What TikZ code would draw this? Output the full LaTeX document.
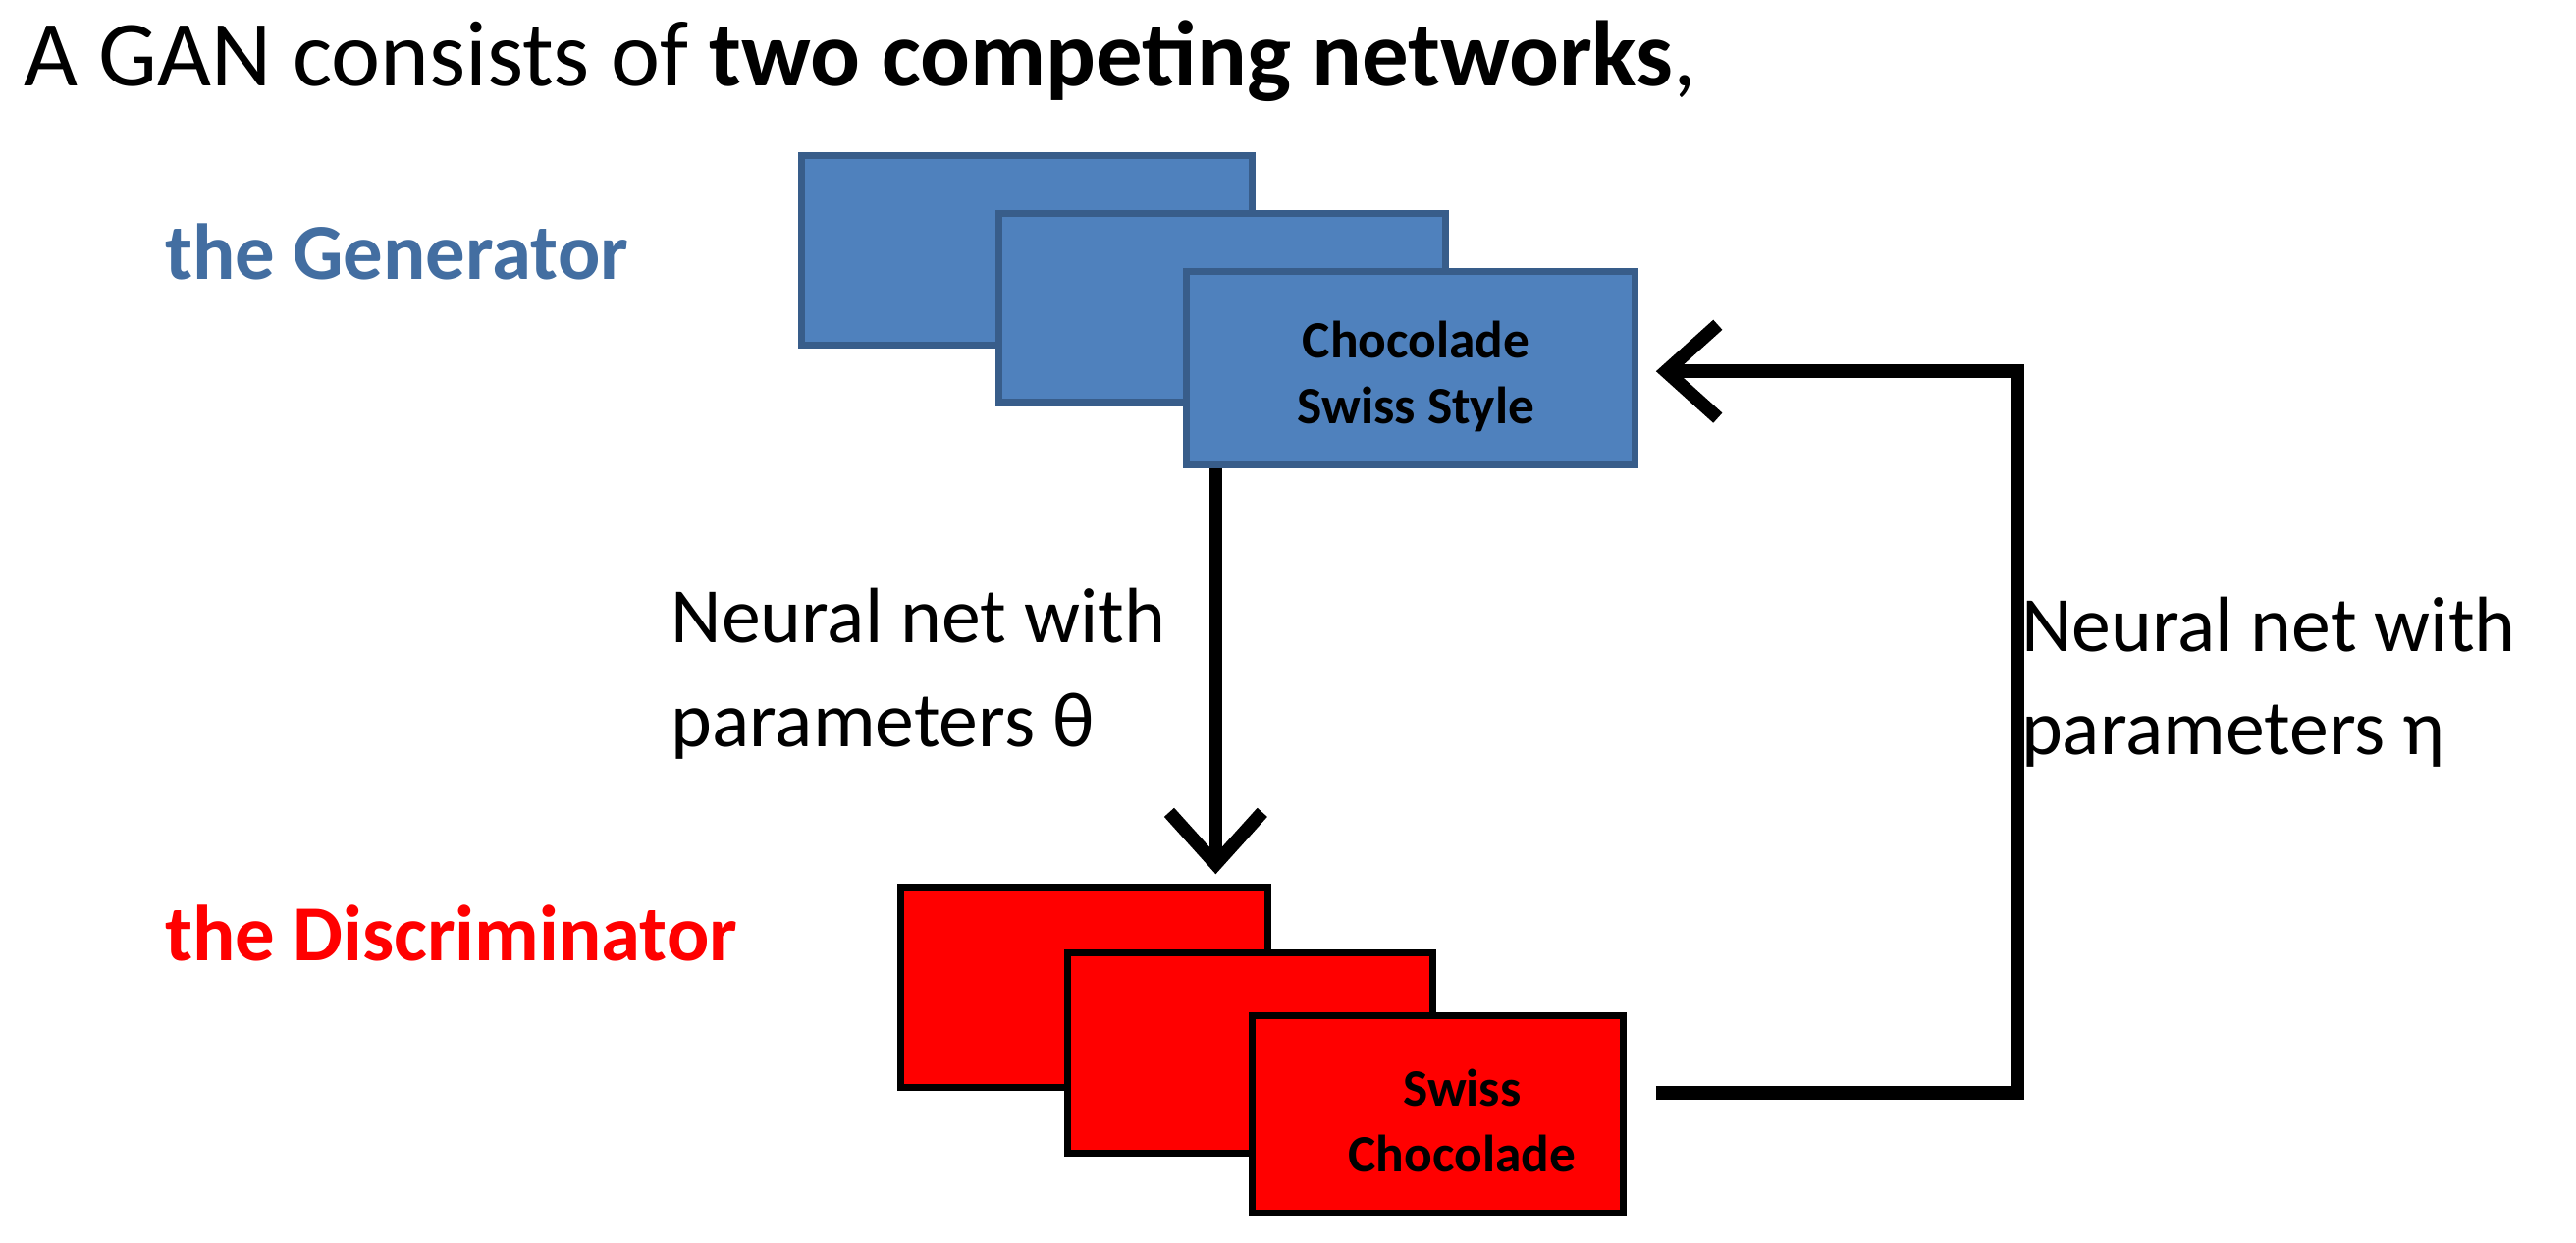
\documentclass[tikz,border=0pt]{standalone}
\usepackage{fontspec}
\setmainfont{Carlito}
\usetikzlibrary{arrows.meta}
\definecolor{gblue}{HTML}{4F81BD}
\definecolor{gbord}{HTML}{385D8A}
\begin{document}
\begin{tikzpicture}[x=0.016735cm,y=-0.016735cm,
  gen/.style={fill=gblue,draw=gbord,line width=2pt},
  dis/.style={fill=red,draw=black,line width=2pt},
  lab/.style={font=\fontsize{22.7pt}{30pt}\selectfont,align=left,anchor=west,inner sep=0},
  boxt/.style={font=\fontsize{15.2pt}{19pt}\selectfont\bfseries,align=center},
  conn/.style={line width=3.9pt,-{Straight Barb[length=15pt,width=27pt,line width=3.9pt]}}]
\useasboundingbox (0,0) rectangle (1568,756.5);
\node[lab,anchor=north west,font=\fontsize{27pt}{32pt}\selectfont] (title) at (14,12) {A GAN consists of \textbf{two competing networks},};
\node[lab,text=gblue!85!black,font=\fontsize{23pt}{28pt}\selectfont\bfseries] (gl) at (100,153) {the Generator};
\node[lab,text=red,font=\fontsize{23pt}{28pt}\selectfont\bfseries] (dl) at (100,568) {the Discriminator};
\draw[gen] (488,95) rectangle (762,210);
\draw[gen] (608,130) rectangle (880,245);
\draw[gen] (722,165) rectangle (995,283);
\node[boxt] (g) at (862,229) {Chocolade\\Swiss Style};
\coordinate (gtop) at (740,285);
\coordinate (gin) at (1008,226);
\draw[dis] (548,540) rectangle (772,662);
\draw[dis] (650,580) rectangle (872,702);
\draw[dis] (762,618) rectangle (988,738);
\node[boxt] (d) at (890,682) {Swiss\\Chocolade};
\coordinate (dtop) at (740,532);
\coordinate (dout) at (1008,665);
\coordinate (c1) at (1228,665);
\coordinate (c2) at (1228,226);
\draw[conn] (gtop) -- (dtop);
\draw[conn] (dout) -- (c1) -- (c2) -- (gin);
\node[lab] (l1) at (408,410) {Neural net with\\parameters θ};
\node[lab] (l2) at (1230,415) {Neural net with\\parameters η};
\end{tikzpicture}
\end{document}
